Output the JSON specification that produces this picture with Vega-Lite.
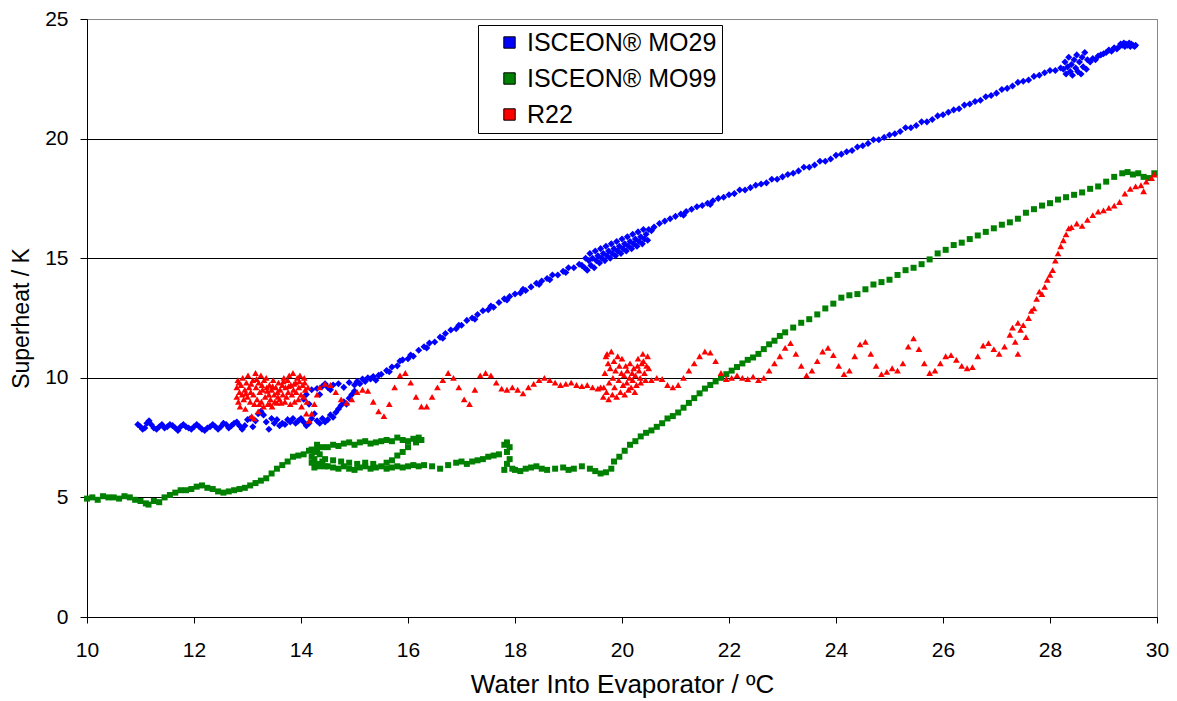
{
"$schema": "https://vega.github.io/schema/vega-lite/v6.json",
"width": 1070,
"height": 598,
"autosize": {"type": "none"},
"padding": {"left": 87, "top": 19, "right": 20, "bottom": 84},
"background": "white",
"config": {
  "font": "Liberation Sans",
  "view": {"stroke": "#888888", "strokeWidth": 1},
  "axis": {"labelColor": "black", "titleColor": "black", "titleFontWeight": "normal", "domainColor": "black", "tickColor": "black", "domainWidth": 1, "tickWidth": 1, "labelFlush": false, "labelOverlap": false}
},
"datasets": {
"mo29": [
{"x":10.95,"y":8.05},{"x":11.0,"y":7.95},{"x":11.04,"y":7.85},{"x":11.08,"y":7.9},{"x":11.12,"y":8.1},{"x":11.16,"y":8.2},{"x":11.2,"y":8.05},{"x":11.25,"y":7.9},{"x":11.3,"y":7.85},{"x":11.35,"y":7.95},{"x":11.4,"y":8.05},{"x":11.45,"y":7.9},{"x":11.5,"y":7.95},{"x":11.55,"y":8.05},{"x":11.6,"y":8.0},{"x":11.65,"y":7.9},{"x":11.7,"y":7.8},{"x":11.75,"y":7.95},{"x":11.8,"y":8.05},{"x":11.85,"y":7.95},{"x":11.9,"y":7.9},{"x":11.95,"y":7.85},{"x":12.0,"y":7.95},{"x":12.05,"y":8.05},{"x":12.1,"y":7.95},{"x":12.15,"y":7.85},{"x":12.2,"y":7.8},{"x":12.25,"y":7.9},{"x":12.3,"y":7.95},{"x":12.35,"y":8.05},{"x":12.4,"y":7.95},{"x":12.45,"y":7.85},{"x":12.5,"y":7.95},{"x":12.55,"y":8.1},{"x":12.6,"y":8.05},{"x":12.65,"y":7.9},{"x":12.7,"y":8.0},{"x":12.75,"y":8.1},{"x":12.8,"y":8.15},{"x":12.85,"y":8.0},{"x":12.9,"y":7.85},{"x":12.95,"y":8.0},{"x":13.0,"y":8.25},{"x":13.05,"y":8.3},{"x":13.1,"y":7.95},{"x":13.15,"y":8.2},{"x":13.2,"y":8.5},{"x":13.25,"y":8.6},{"x":13.3,"y":8.45},{"x":13.35,"y":8.15},{"x":13.4,"y":7.85},{"x":13.45,"y":8.3},{"x":13.5,"y":8.1},{"x":13.55,"y":8.25},{"x":13.6,"y":8.0},{"x":13.65,"y":8.1},{"x":13.7,"y":8.05},{"x":13.75,"y":8.25},{"x":13.8,"y":8.15},{"x":13.85,"y":8.3},{"x":13.9,"y":8.1},{"x":13.95,"y":8.2},{"x":14.0,"y":8.3},{"x":14.05,"y":8.15},{"x":14.1,"y":8.0},{"x":14.15,"y":8.1},{"x":14.2,"y":8.3},{"x":14.25,"y":8.5},{"x":14.3,"y":8.2},{"x":14.35,"y":8.1},{"x":14.4,"y":8.3},{"x":14.45,"y":8.15},{"x":14.5,"y":8.25},{"x":14.55,"y":8.45},{"x":14.6,"y":8.35},{"x":14.65,"y":8.55},{"x":14.7,"y":8.7},{"x":14.75,"y":8.85},{"x":14.8,"y":9.0},{"x":14.85,"y":8.9},{"x":14.9,"y":9.15},{"x":14.95,"y":9.3},{"x":15.0,"y":9.45},
{"x":14.05,"y":9.1},{"x":14.1,"y":9.3},{"x":14.15,"y":8.9},{"x":14.2,"y":9.5},{"x":14.3,"y":9.55},{"x":14.35,"y":9.3},{"x":14.4,"y":9.65},{"x":14.45,"y":9.75},{"x":14.5,"y":9.6},{"x":14.55,"y":9.5},{"x":14.6,"y":9.7},{"x":14.7,"y":9.75},{"x":14.8,"y":9.6},{"x":14.9,"y":9.8},{"x":15.0,"y":9.7},{"x":15.05,"y":9.85},{"x":15.1,"y":9.75},{"x":15.15,"y":9.95},{"x":15.2,"y":9.85},{"x":15.25,"y":10.0},{"x":15.3,"y":9.95},{"x":15.35,"y":10.05},{"x":15.4,"y":9.9},{"x":15.45,"y":10.1},{"x":15.5,"y":10.15},
{"x":15.6,"y":10.3},{"x":15.65,"y":10.25},{"x":15.7,"y":10.45},{"x":15.8,"y":10.5},{"x":15.85,"y":10.7},{"x":15.9,"y":10.75},{"x":16.0,"y":10.8},{"x":16.05,"y":10.95},{"x":16.1,"y":10.9},{"x":16.2,"y":11.15},{"x":16.3,"y":11.3},{"x":16.35,"y":11.25},{"x":16.4,"y":11.45},{"x":16.5,"y":11.5},{"x":16.6,"y":11.7},{"x":16.65,"y":11.65},{"x":16.7,"y":11.85},{"x":16.8,"y":12.0},{"x":16.9,"y":12.05},{"x":16.95,"y":12.2},{"x":17.0,"y":12.2},{"x":17.1,"y":12.4},{"x":17.2,"y":12.5},{"x":17.25,"y":12.45},{"x":17.3,"y":12.65},{"x":17.4,"y":12.8},{"x":17.5,"y":12.85},{"x":17.55,"y":13.0},{"x":17.6,"y":12.95},{"x":17.7,"y":13.15},{"x":17.8,"y":13.3},{"x":17.85,"y":13.25},{"x":17.9,"y":13.4},{"x":18.0,"y":13.5},{"x":18.1,"y":13.55},{"x":18.15,"y":13.7},{"x":18.2,"y":13.65},{"x":18.3,"y":13.8},{"x":18.4,"y":13.95},{"x":18.45,"y":13.9},{"x":18.5,"y":14.05},{"x":18.6,"y":14.15},{"x":18.65,"y":14.1},{"x":18.7,"y":14.3},{"x":18.8,"y":14.3},{"x":18.9,"y":14.45},{"x":18.95,"y":14.4},{"x":19.0,"y":14.6},{"x":19.1,"y":14.6},{"x":19.2,"y":14.75},{"x":19.25,"y":14.7},
{"x":19.3,"y":14.6},{"x":19.32,"y":15.0},{"x":19.35,"y":14.5},{"x":19.38,"y":14.9},{"x":19.4,"y":15.2},{"x":19.42,"y":14.7},{"x":19.45,"y":15.0},{"x":19.48,"y":14.6},{"x":19.5,"y":15.3},{"x":19.52,"y":14.9},{"x":19.55,"y":15.1},{"x":19.58,"y":14.8},{"x":19.6,"y":15.4},{"x":19.62,"y":15.0},{"x":19.65,"y":15.2},{"x":19.68,"y":14.9},{"x":19.7,"y":15.5},{"x":19.72,"y":15.1},{"x":19.75,"y":15.3},{"x":19.78,"y":15.0},{"x":19.8,"y":15.6},{"x":19.82,"y":15.2},{"x":19.85,"y":15.4},{"x":19.88,"y":15.1},{"x":19.9,"y":15.7},{"x":19.92,"y":15.3},{"x":19.95,"y":15.5},{"x":19.98,"y":15.2},{"x":20.0,"y":15.8},{"x":20.02,"y":15.4},{"x":20.05,"y":15.6},{"x":20.08,"y":15.3},{"x":20.1,"y":15.9},{"x":20.12,"y":15.5},{"x":20.15,"y":15.7},{"x":20.18,"y":15.4},{"x":20.2,"y":16.0},{"x":20.22,"y":15.6},{"x":20.25,"y":15.8},{"x":20.28,"y":15.5},{"x":20.3,"y":16.1},{"x":20.32,"y":15.7},{"x":20.35,"y":15.9},{"x":20.38,"y":15.6},{"x":20.4,"y":16.2},{"x":20.42,"y":15.8},{"x":20.45,"y":16.0},{"x":20.48,"y":15.75},{"x":20.5,"y":16.2},
{"x":20.55,"y":16.15},{"x":20.6,"y":16.3},{"x":20.7,"y":16.45},{"x":20.8,"y":16.55},{"x":20.9,"y":16.65},{"x":21.0,"y":16.75},{"x":21.1,"y":16.85},{"x":21.15,"y":16.8},{"x":21.2,"y":16.95},{"x":21.3,"y":17.05},{"x":21.4,"y":17.15},{"x":21.5,"y":17.2},{"x":21.6,"y":17.3},{"x":21.65,"y":17.25},{"x":21.7,"y":17.4},{"x":21.8,"y":17.5},{"x":21.9,"y":17.55},{"x":22.0,"y":17.65},{"x":22.1,"y":17.7},{"x":22.2,"y":17.85},{"x":22.3,"y":17.85},{"x":22.4,"y":17.95},{"x":22.5,"y":18.05},{"x":22.6,"y":18.1},{"x":22.7,"y":18.15},{"x":22.8,"y":18.3},{"x":22.9,"y":18.3},{"x":23.0,"y":18.4},{"x":23.1,"y":18.5},{"x":23.2,"y":18.55},{"x":23.3,"y":18.65},{"x":23.4,"y":18.8},{"x":23.5,"y":18.8},{"x":23.6,"y":18.9},{"x":23.7,"y":19.05},{"x":23.8,"y":19.05},{"x":23.9,"y":19.15},{"x":24.0,"y":19.3},{"x":24.1,"y":19.35},{"x":24.2,"y":19.45},{"x":24.3,"y":19.5},{"x":24.4,"y":19.65},{"x":24.5,"y":19.7},{"x":24.6,"y":19.8},{"x":24.7,"y":19.95},{"x":24.8,"y":19.95},{"x":24.9,"y":20.05},{"x":25.0,"y":20.15},{"x":25.1,"y":20.2},{"x":25.2,"y":20.3},{"x":25.3,"y":20.45},{"x":25.4,"y":20.45},{"x":25.5,"y":20.55},{"x":25.6,"y":20.7},{"x":25.7,"y":20.7},{"x":25.8,"y":20.8},{"x":25.9,"y":20.95},{"x":26.0,"y":21.0},{"x":26.1,"y":21.1},{"x":26.2,"y":21.2},{"x":26.3,"y":21.25},{"x":26.4,"y":21.4},{"x":26.5,"y":21.45},{"x":26.6,"y":21.55},{"x":26.7,"y":21.6},{"x":26.8,"y":21.75},{"x":26.9,"y":21.8},{"x":27.0,"y":21.9},{"x":27.1,"y":22.05},{"x":27.2,"y":22.1},{"x":27.3,"y":22.2},{"x":27.4,"y":22.35},{"x":27.5,"y":22.4},{"x":27.6,"y":22.45},{"x":27.7,"y":22.6},{"x":27.8,"y":22.65},{"x":27.9,"y":22.75},{"x":28.0,"y":22.85},{"x":28.1,"y":22.85},{"x":28.2,"y":22.95},
{"x":28.25,"y":22.9},{"x":28.28,"y":23.2},{"x":28.3,"y":22.7},{"x":28.33,"y":23.0},{"x":28.35,"y":23.4},{"x":28.38,"y":22.8},{"x":28.4,"y":23.1},{"x":28.42,"y":22.65},{"x":28.45,"y":23.3},{"x":28.48,"y":22.95},{"x":28.5,"y":23.5},{"x":28.52,"y":22.8},{"x":28.55,"y":23.2},{"x":28.58,"y":22.7},{"x":28.6,"y":23.4},{"x":28.62,"y":23.0},{"x":28.65,"y":23.6},{"x":28.68,"y":22.9},{"x":28.7,"y":23.3},
{"x":28.75,"y":23.2},{"x":28.8,"y":23.35},{"x":28.85,"y":23.3},{"x":28.9,"y":23.45},{"x":28.95,"y":23.5},{"x":29.0,"y":23.55},{"x":29.05,"y":23.6},{"x":29.1,"y":23.7},{"x":29.15,"y":23.65},{"x":29.2,"y":23.8},{"x":29.25,"y":23.75},{"x":29.3,"y":23.85},{"x":29.32,"y":23.95},{"x":29.35,"y":23.9},{"x":29.38,"y":24.0},{"x":29.4,"y":23.85},{"x":29.42,"y":23.95},{"x":29.45,"y":23.9},{"x":29.48,"y":24.0},{"x":29.5,"y":23.85},{"x":29.52,"y":23.95},{"x":29.55,"y":23.9},{"x":29.58,"y":23.85},{"x":29.6,"y":23.9}
],
"mo99": [
{"x":10.0,"y":4.95},{"x":10.1,"y":5.0},{"x":10.2,"y":4.9},{"x":10.3,"y":5.05},{"x":10.4,"y":5.0},{"x":10.5,"y":5.0},{"x":10.6,"y":4.95},{"x":10.7,"y":5.05},{"x":10.8,"y":5.0},{"x":10.9,"y":4.9},{"x":11.0,"y":4.85},{"x":11.1,"y":4.75},{"x":11.15,"y":4.7},{"x":11.25,"y":4.85},{"x":11.35,"y":4.8},{"x":11.45,"y":5.0},{"x":11.55,"y":5.1},{"x":11.65,"y":5.2},{"x":11.75,"y":5.3},{"x":11.85,"y":5.3},{"x":11.95,"y":5.35},{"x":12.05,"y":5.45},{"x":12.15,"y":5.5},{"x":12.25,"y":5.4},{"x":12.35,"y":5.35},{"x":12.45,"y":5.25},{"x":12.55,"y":5.2},{"x":12.65,"y":5.25},{"x":12.75,"y":5.3},{"x":12.85,"y":5.35},{"x":12.95,"y":5.4},{"x":13.05,"y":5.5},{"x":13.15,"y":5.6},{"x":13.25,"y":5.7},{"x":13.35,"y":5.8},{"x":13.45,"y":6.0},{"x":13.55,"y":6.2},{"x":13.65,"y":6.35},{"x":13.75,"y":6.5},{"x":13.85,"y":6.7},{"x":13.95,"y":6.75},{"x":14.05,"y":6.8},{"x":14.15,"y":6.95},{"x":14.2,"y":7.0},
{"x":14.25,"y":6.9},{"x":14.25,"y":6.6},{"x":14.3,"y":6.4},{"x":14.3,"y":7.2},{"x":14.35,"y":6.3},{"x":14.35,"y":6.8},{"x":14.4,"y":7.1},{"x":14.4,"y":6.5},{"x":14.45,"y":6.3},{"x":14.2,"y":6.7},{"x":14.25,"y":6.25},{"x":14.3,"y":7.0},{"x":14.2,"y":6.45},
{"x":14.5,"y":7.1},{"x":14.6,"y":7.2},{"x":14.7,"y":7.15},{"x":14.8,"y":7.25},{"x":14.9,"y":7.3},{"x":15.0,"y":7.2},{"x":15.1,"y":7.3},{"x":15.2,"y":7.35},{"x":15.3,"y":7.25},{"x":15.4,"y":7.3},{"x":15.5,"y":7.35},{"x":15.6,"y":7.4},{"x":15.7,"y":7.35},{"x":15.8,"y":7.5},{"x":15.9,"y":7.4},{"x":16.0,"y":7.35},{"x":16.1,"y":7.45},{"x":16.2,"y":7.5},{"x":16.25,"y":7.4},{"x":16.15,"y":7.3},
{"x":16.0,"y":7.1},{"x":15.9,"y":6.9},{"x":15.8,"y":6.75},{"x":15.7,"y":6.55},{"x":15.6,"y":6.45},
{"x":14.5,"y":6.3},{"x":14.6,"y":6.25},{"x":14.7,"y":6.2},{"x":14.8,"y":6.3},{"x":14.9,"y":6.2},{"x":15.0,"y":6.15},{"x":15.1,"y":6.25},{"x":15.2,"y":6.3},{"x":15.3,"y":6.2},{"x":15.4,"y":6.25},{"x":15.5,"y":6.3},{"x":15.6,"y":6.2},{"x":15.7,"y":6.25},{"x":15.8,"y":6.3},{"x":15.9,"y":6.25},{"x":16.0,"y":6.3},{"x":16.1,"y":6.35},{"x":16.2,"y":6.3},
{"x":14.45,"y":6.6},{"x":14.6,"y":6.55},{"x":14.75,"y":6.5},{"x":14.9,"y":6.45},{"x":15.05,"y":6.4},{"x":15.2,"y":6.45},{"x":15.35,"y":6.4},
{"x":16.3,"y":6.35},{"x":16.45,"y":6.3},{"x":16.6,"y":6.2},{"x":16.75,"y":6.35},{"x":16.9,"y":6.45},{"x":17.0,"y":6.5},{"x":17.1,"y":6.4},{"x":17.2,"y":6.5},{"x":17.3,"y":6.55},{"x":17.4,"y":6.6},{"x":17.5,"y":6.7},{"x":17.6,"y":6.75},{"x":17.7,"y":6.8},{"x":17.8,"y":7.2},{"x":17.85,"y":7.3},{"x":17.9,"y":7.1},{"x":17.85,"y":6.9},{"x":17.9,"y":6.6},{"x":17.85,"y":6.4},{"x":17.95,"y":6.2},{"x":17.8,"y":6.15},{"x":18.0,"y":6.15},{"x":18.1,"y":6.1},{"x":18.2,"y":6.2},{"x":18.3,"y":6.25},{"x":18.4,"y":6.3},{"x":18.5,"y":6.2},{"x":18.6,"y":6.15},{"x":18.75,"y":6.2},{"x":18.9,"y":6.25},{"x":19.0,"y":6.15},{"x":19.1,"y":6.2},{"x":19.25,"y":6.3},{"x":19.4,"y":6.2},{"x":19.5,"y":6.1},{"x":19.6,"y":6.0},{"x":19.7,"y":6.05},{"x":19.8,"y":6.2},{"x":19.85,"y":6.5},{"x":19.95,"y":6.7},{"x":20.05,"y":6.95},{"x":20.15,"y":7.2},{"x":20.25,"y":7.35},{"x":20.35,"y":7.55},{"x":20.45,"y":7.7},{"x":20.55,"y":7.8},{"x":20.65,"y":7.95},{"x":20.75,"y":8.1},{"x":20.85,"y":8.3},{"x":20.95,"y":8.4},{"x":21.05,"y":8.55},{"x":21.15,"y":8.75},{"x":21.25,"y":8.95},{"x":21.35,"y":9.15},{"x":21.45,"y":9.35},{"x":21.55,"y":9.55},{"x":21.65,"y":9.7},{"x":21.75,"y":9.85},{"x":21.85,"y":10.0},{"x":21.95,"y":10.15},{"x":22.05,"y":10.3},{"x":22.15,"y":10.45},{"x":22.25,"y":10.6},{"x":22.35,"y":10.75},{"x":22.45,"y":10.85},{"x":22.55,"y":11.0},{"x":22.65,"y":11.2},{"x":22.75,"y":11.4},{"x":22.85,"y":11.55},{"x":22.95,"y":11.75},{"x":23.05,"y":11.9},{"x":23.2,"y":12.1},{"x":23.35,"y":12.3},{"x":23.5,"y":12.45},{"x":23.65,"y":12.65},{"x":23.8,"y":12.9},{"x":23.95,"y":13.1},{"x":24.1,"y":13.35},{"x":24.25,"y":13.45},{"x":24.4,"y":13.5},{"x":24.55,"y":13.7},{"x":24.7,"y":13.9},{"x":24.85,"y":14.0},{"x":25.0,"y":14.1},{"x":25.15,"y":14.3},{"x":25.3,"y":14.5},{"x":25.45,"y":14.6},{"x":25.6,"y":14.75},{"x":25.75,"y":14.95},{"x":25.9,"y":15.2},{"x":26.05,"y":15.35},{"x":26.2,"y":15.55},{"x":26.35,"y":15.65},{"x":26.5,"y":15.8},{"x":26.65,"y":15.95},{"x":26.8,"y":16.1},{"x":26.95,"y":16.25},{"x":27.1,"y":16.4},{"x":27.25,"y":16.5},{"x":27.4,"y":16.65},{"x":27.55,"y":16.9},{"x":27.7,"y":17.05},{"x":27.85,"y":17.2},{"x":28.0,"y":17.3},{"x":28.15,"y":17.45},{"x":28.3,"y":17.55},{"x":28.45,"y":17.65},{"x":28.6,"y":17.75},{"x":28.75,"y":17.9},{"x":28.9,"y":18.0},{"x":29.05,"y":18.2},{"x":29.2,"y":18.4},{"x":29.35,"y":18.55},{"x":29.45,"y":18.6},{"x":29.55,"y":18.5},{"x":29.65,"y":18.55},{"x":29.75,"y":18.4},{"x":29.85,"y":18.35},{"x":29.95,"y":18.55}
],
"r22": [
{"x":12.8,"y":9.2},{"x":12.8,"y":9.6},{"x":12.82,"y":9.9},{"x":12.83,"y":9.0},{"x":12.85,"y":9.4},{"x":12.86,"y":8.8},{"x":12.88,"y":9.7},{"x":12.9,"y":9.3},{"x":12.91,"y":10.0},{"x":12.93,"y":9.1},{"x":12.95,"y":9.5},{"x":12.96,"y":8.7},{"x":12.98,"y":9.8},{"x":13.0,"y":9.2},{"x":13.01,"y":10.1},{"x":13.03,"y":9.6},{"x":13.05,"y":9.0},{"x":13.06,"y":9.4},{"x":13.08,"y":8.4},{"x":13.1,"y":9.9},{"x":13.11,"y":9.3},{"x":13.13,"y":8.9},{"x":13.15,"y":10.2},{"x":13.16,"y":9.6},{"x":13.18,"y":9.1},{"x":13.2,"y":8.6},{"x":13.21,"y":9.8},{"x":13.23,"y":9.4},{"x":13.25,"y":10.1},{"x":13.26,"y":9.0},{"x":13.28,"y":9.5},{"x":13.3,"y":8.8},{"x":13.31,"y":9.9},{"x":13.33,"y":9.2},{"x":13.35,"y":10.0},{"x":13.36,"y":9.6},{"x":13.38,"y":8.9},{"x":13.4,"y":9.3},{"x":13.41,"y":9.7},{"x":13.43,"y":9.1},{"x":13.45,"y":9.5},{"x":13.46,"y":8.8},{"x":13.48,"y":9.9},{"x":13.5,"y":9.3},{"x":13.51,"y":9.0},{"x":13.53,"y":9.6},{"x":13.55,"y":8.95},{"x":13.56,"y":9.4},{"x":13.58,"y":9.8},{"x":13.6,"y":9.1},{"x":13.61,"y":9.5},{"x":13.63,"y":8.95},{"x":13.65,"y":9.7},{"x":13.66,"y":9.3},{"x":13.68,"y":10.0},{"x":13.7,"y":9.0},{"x":13.71,"y":9.6},{"x":13.73,"y":9.2},{"x":13.75,"y":9.9},{"x":13.76,"y":9.4},{"x":13.78,"y":10.1},{"x":13.8,"y":8.9},{"x":13.81,"y":9.7},{"x":13.83,"y":9.3},{"x":13.85,"y":10.2},{"x":13.86,"y":9.5},{"x":13.88,"y":9.0},{"x":13.9,"y":9.8},{"x":13.91,"y":9.4},{"x":13.93,"y":10.0},{"x":13.95,"y":9.1},{"x":13.96,"y":9.6},{"x":13.98,"y":10.1},{"x":14.0,"y":9.3},{"x":14.01,"y":8.8},{"x":14.03,"y":9.7},{"x":14.05,"y":9.2},{"x":14.06,"y":10.0},{"x":14.08,"y":9.5},{"x":14.1,"y":8.5},{"x":14.11,"y":9.0},{"x":14.13,"y":9.6},{"x":14.15,"y":8.2},{"x":13.12,"y":8.3},{"x":13.22,"y":8.9},{"x":13.42,"y":8.9},{"x":12.84,"y":9.8},{"x":12.97,"y":9.35},{"x":13.07,"y":9.75},{"x":13.17,"y":9.95},{"x":13.27,"y":9.7},{"x":13.37,"y":9.45},{"x":13.47,"y":9.65},{"x":13.57,"y":9.2},{"x":13.67,"y":9.85},{"x":13.77,"y":9.65},{"x":13.87,"y":9.75},{"x":13.97,"y":9.85},{"x":14.07,"y":9.8},
{"x":14.2,"y":8.5},{"x":14.25,"y":8.9},{"x":14.3,"y":9.3},{"x":14.35,"y":9.6},{"x":14.45,"y":9.75},{"x":14.55,"y":9.7},{"x":14.65,"y":9.4},{"x":14.75,"y":9.1},{"x":14.85,"y":8.95},{"x":14.95,"y":9.1},{"x":15.05,"y":9.4},{"x":15.15,"y":9.5},{"x":15.25,"y":9.45},{"x":15.35,"y":9.0},{"x":15.45,"y":8.6},{"x":15.55,"y":8.4},{"x":15.65,"y":8.9},{"x":15.75,"y":9.6},{"x":15.85,"y":10.1},{"x":15.95,"y":10.2},{"x":16.05,"y":9.8},{"x":16.15,"y":9.2},{"x":16.25,"y":8.8},{"x":16.35,"y":8.8},{"x":16.45,"y":9.2},{"x":16.55,"y":9.6},{"x":16.65,"y":9.9},{"x":16.75,"y":10.2},{"x":16.85,"y":10.0},{"x":16.95,"y":9.6},{"x":17.05,"y":9.1},{"x":17.15,"y":8.9},{"x":17.25,"y":9.5},{"x":17.35,"y":10.1},{"x":17.45,"y":10.2},{"x":17.55,"y":10.1},{"x":17.65,"y":9.8},{"x":17.75,"y":9.55},{"x":17.85,"y":9.5},{"x":17.95,"y":9.6},{"x":18.05,"y":9.5},{"x":18.15,"y":9.35},{"x":18.25,"y":9.6},{"x":18.35,"y":9.75},{"x":18.45,"y":9.9},{"x":18.55,"y":10.0},{"x":18.65,"y":9.9},{"x":18.75,"y":9.8},{"x":18.85,"y":9.7},{"x":18.95,"y":9.75},{"x":19.05,"y":9.8},{"x":19.15,"y":9.7},{"x":19.25,"y":9.65},{"x":19.35,"y":9.7},{"x":19.45,"y":9.6},{"x":19.55,"y":9.55},{"x":19.6,"y":9.6},
{"x":19.65,"y":9.2},{"x":19.66,"y":9.6},{"x":19.68,"y":10.2},{"x":19.7,"y":10.9},{"x":19.71,"y":9.4},{"x":19.72,"y":11.0},{"x":19.74,"y":10.6},{"x":19.75,"y":9.1},{"x":19.76,"y":9.8},{"x":19.78,"y":10.4},{"x":19.8,"y":11.1},{"x":19.82,"y":9.3},{"x":19.83,"y":10.0},{"x":19.85,"y":10.7},{"x":19.86,"y":9.6},{"x":19.88,"y":10.3},{"x":19.9,"y":9.2},{"x":19.92,"y":10.9},{"x":19.94,"y":9.9},{"x":19.95,"y":10.5},{"x":19.97,"y":9.4},{"x":19.99,"y":10.2},{"x":20.0,"y":10.8},{"x":20.02,"y":9.7},{"x":20.04,"y":10.1},{"x":20.05,"y":9.3},{"x":20.07,"y":10.5},{"x":20.09,"y":9.8},{"x":20.1,"y":10.3},{"x":20.12,"y":9.5},{"x":20.14,"y":10.0},{"x":20.15,"y":10.6},{"x":20.17,"y":9.6},{"x":20.19,"y":10.2},{"x":20.2,"y":9.9},{"x":20.22,"y":10.4},{"x":20.24,"y":9.4},{"x":20.25,"y":10.1},{"x":20.27,"y":9.7},{"x":20.29,"y":10.5},{"x":20.3,"y":10.8},{"x":20.32,"y":10.3},{"x":20.34,"y":10.0},{"x":20.35,"y":9.8},{"x":20.37,"y":10.6},{"x":20.39,"y":11.0},{"x":20.4,"y":10.7},{"x":20.42,"y":10.2},{"x":20.44,"y":9.9},{"x":20.46,"y":10.5},{"x":20.48,"y":10.9},{"x":20.5,"y":10.4},
{"x":20.55,"y":9.9},{"x":20.65,"y":10.0},{"x":20.75,"y":9.95},{"x":20.85,"y":9.7},{"x":20.95,"y":9.6},{"x":21.05,"y":9.7},{"x":21.15,"y":10.0},{"x":21.25,"y":10.3},{"x":21.35,"y":10.6},{"x":21.45,"y":10.9},{"x":21.55,"y":11.1},{"x":21.65,"y":11.05},{"x":21.75,"y":10.7},{"x":21.85,"y":10.2},{"x":21.95,"y":9.95},{"x":22.05,"y":10.0},{"x":22.15,"y":10.1},{"x":22.25,"y":10.0},{"x":22.35,"y":9.95},{"x":22.45,"y":10.05},{"x":22.55,"y":9.9},{"x":22.65,"y":10.0},{"x":22.75,"y":10.3},{"x":22.85,"y":10.6},{"x":22.95,"y":10.9},{"x":23.05,"y":11.25},{"x":23.15,"y":11.45},{"x":23.25,"y":11.0},{"x":23.35,"y":10.5},{"x":23.45,"y":10.1},{"x":23.55,"y":10.3},{"x":23.65,"y":10.7},{"x":23.75,"y":11.1},{"x":23.85,"y":11.25},{"x":23.95,"y":10.95},{"x":24.05,"y":10.5},{"x":24.15,"y":10.15},{"x":24.25,"y":10.3},{"x":24.35,"y":10.9},{"x":24.45,"y":11.4},{"x":24.55,"y":11.5},{"x":24.65,"y":11.0},{"x":24.75,"y":10.5},{"x":24.85,"y":10.15},{"x":24.95,"y":10.25},{"x":25.05,"y":10.4},{"x":25.15,"y":10.3},{"x":25.25,"y":10.6},{"x":25.35,"y":11.3},{"x":25.45,"y":11.65},{"x":25.55,"y":11.2},{"x":25.65,"y":10.6},{"x":25.75,"y":10.2},{"x":25.85,"y":10.3},{"x":25.95,"y":10.6},{"x":26.05,"y":10.9},{"x":26.15,"y":10.95},{"x":26.25,"y":10.75},{"x":26.35,"y":10.5},{"x":26.45,"y":10.4},{"x":26.55,"y":10.45},{"x":26.65,"y":10.9},{"x":26.75,"y":11.35},{"x":26.85,"y":11.45},{"x":26.95,"y":11.2},{"x":27.05,"y":11.0},{"x":27.15,"y":11.3},{"x":27.25,"y":11.8},{"x":27.3,"y":12.1},{"x":27.35,"y":11.5},{"x":27.4,"y":11.0},{"x":27.4,"y":12.3},{"x":27.45,"y":12.0},{"x":27.5,"y":12.2},{"x":27.55,"y":11.7},{"x":27.6,"y":12.5},{"x":27.65,"y":12.8},{"x":27.7,"y":12.9},{"x":27.75,"y":13.3},{"x":27.8,"y":13.6},{"x":27.85,"y":13.5},{"x":27.9,"y":13.8},{"x":27.95,"y":14.1},{"x":28.0,"y":14.3},{"x":28.05,"y":14.5},{"x":28.1,"y":14.9},{"x":28.15,"y":15.2},{"x":28.2,"y":15.5},{"x":28.25,"y":15.75},{"x":28.3,"y":16.0},{"x":28.35,"y":16.25},{"x":28.4,"y":16.3},{"x":28.5,"y":16.45},{"x":28.6,"y":16.35},{"x":28.7,"y":16.6},{"x":28.8,"y":16.8},{"x":28.9,"y":16.95},{"x":29.0,"y":17.0},{"x":29.1,"y":17.1},{"x":29.2,"y":17.2},{"x":29.3,"y":17.35},{"x":29.4,"y":17.7},{"x":29.5,"y":17.9},{"x":29.6,"y":18.0},{"x":29.7,"y":18.05},{"x":29.75,"y":17.8},{"x":29.8,"y":18.2},{"x":29.9,"y":18.35},{"x":29.95,"y":18.5}
]
},
"encoding": {
  "x": {"field": "x", "type": "quantitative", "scale": {"domain": [10, 30], "nice": false, "zero": false},
        "axis": {"title": "Water Into Evaporator / ºC", "values": [10,12,14,16,18,20,22,24,26,28,30], "grid": false, "tickSize": 6, "labelFontSize": 21, "labelPadding": 16, "titleFontSize": 26, "titlePadding": 11}},
  "y": {"field": "y", "type": "quantitative", "scale": {"domain": [0, 25], "nice": false, "zero": false},
        "axis": {"title": "Superheat / K", "values": [0,5,10,15,20,25], "grid": true, "gridColor": {"condition": {"test": "datum.value == 25", "value": "#888888"}, "value": "#000000"}, "gridWidth": 1, "tickSize": 7, "labelFontSize": 21, "labelPadding": 12, "titleFontSize": 23, "titlePadding": 11}}
},
"layer": [
  {"data": {"name": "mo29"}, "mark": {"type": "point", "shape": "diamond", "filled": true, "size": 50, "opacity": 1},
   "encoding": {"color": {"datum": "ISCEON® MO29", "type": "nominal",
     "scale": {"domain": ["ISCEON® MO29", "ISCEON® MO99", "R22"], "range": ["#0000FF", "#008000", "#FF0000"]},
     "legend": {"title": null, "orient": "none", "legendX": 391, "legendY": 6, "symbolType": "square", "symbolSize": 130, "symbolStrokeColor": "black", "symbolStrokeWidth": 1, "symbolOffset": 14, "labelOffset": 5, "labelFontSize": 25, "labelColor": "black", "labelLimit": 400, "rowPadding": 10, "padding": 5, "strokeColor": "black", "fillColor": "white", "labelExpr": "datum.label + '\u00a0\u00a0'"}}}},
  {"data": {"name": "mo99"}, "mark": {"type": "point", "shape": "square", "filled": true, "size": 36, "opacity": 1},
   "encoding": {"color": {"datum": "ISCEON® MO99", "type": "nominal"}}},
  {"data": {"name": "r22"}, "mark": {"type": "point", "shape": "triangle-up", "filled": true, "size": 45, "opacity": 1},
   "encoding": {"color": {"datum": "R22", "type": "nominal"}}}
]
}
